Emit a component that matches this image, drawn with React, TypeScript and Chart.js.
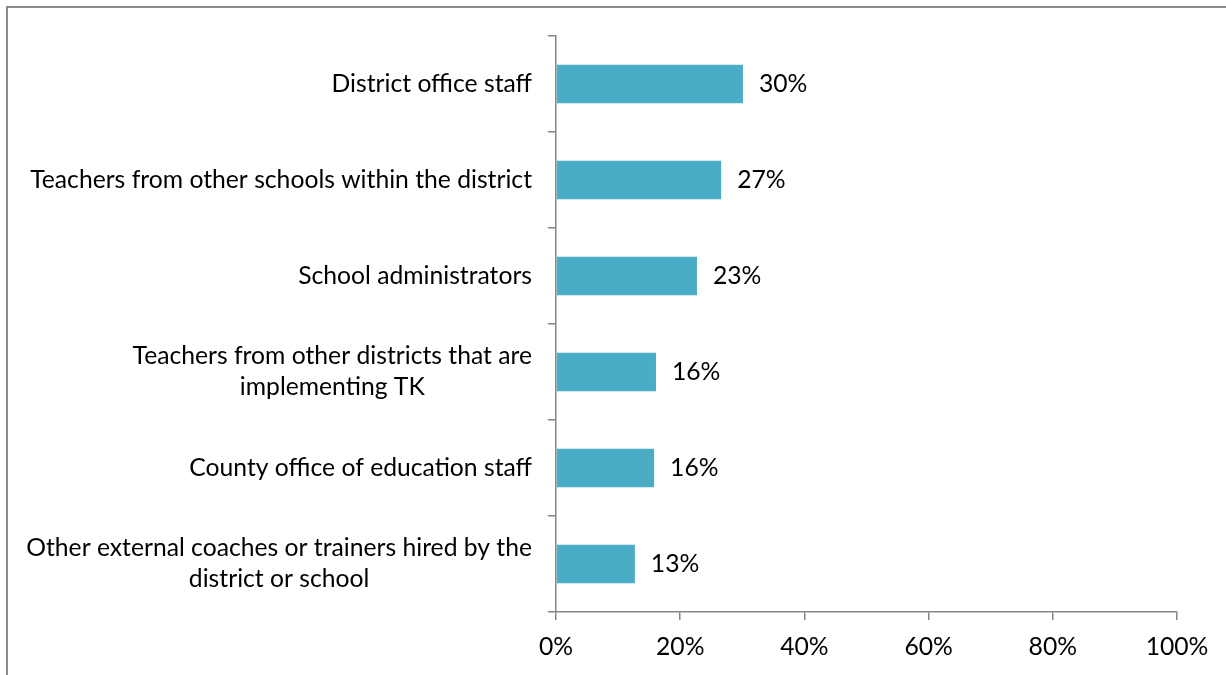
import React, { useEffect, useRef } from "react";
import { Chart, registerables } from "chart.js";

Chart.register(...registerables);

const categories: string[][] = [
  ["District office staff"],
  ["Teachers from other schools within the district"],
  ["School administrators"],
  ["Teachers from other districts that are", "implementing TK"],
  ["County office of education staff"],
  ["Other external coaches or trainers hired by the", "district or school"],
];
const values: number[] = [30.1, 26.6, 22.7, 16.1, 15.8, 12.7];
const valueLabels: string[] = ["30%", "27%", "23%", "16%", "16%", "13%"];
const xTicks: number[] = [0, 20, 40, 60, 80, 100];

const FONT = "Lato";
const FONT_SIZE = 24.7;
const AXIS_COLOR = "#868686";
const BAR_COLOR = "#4BACC6";

const labelPlugin = {
  id: "customLabels",
  afterDraw(chart: any) {
    const ctx = chart.ctx;
    const yScale = chart.scales.y;
    ctx.save();
    ctx.font = `${FONT_SIZE}px ${FONT}`;
    ctx.fillStyle = "#000";
    ctx.textBaseline = "middle";
    const rightEdge = yScale.right - 24;
    const lineH = 31;
    categories.forEach((lines, i) => {
      const yc = yScale.getPixelForValue(i);
      const maxW = Math.max(...lines.map((l) => ctx.measureText(l).width));
      const cx = rightEdge - maxW / 2;
      ctx.textAlign = "center";
      lines.forEach((l, j) => {
        const y = yc + (j - (lines.length - 1) / 2) * lineH;
        ctx.fillText(l, cx, y);
      });
    });
    const meta = chart.getDatasetMeta(0);
    ctx.textAlign = "left";
    meta.data.forEach((bar: any, i: number) => {
      ctx.fillText(valueLabels[i], bar.x + 16, bar.y);
    });
    ctx.restore();
  },
};

export default function App() {
  const ref = useRef<HTMLCanvasElement>(null);
  useEffect(() => {
    if (!ref.current) return;
    const chart = new Chart(ref.current, {
      type: "bar",
      data: {
        labels: categories.map((c) => c.join(" ")),
        datasets: [
          {
            data: values,
            backgroundColor: BAR_COLOR,
            barPercentage: 0.4,
            categoryPercentage: 1,
          },
        ],
      },
      options: {
        indexAxis: "y",
        animation: false,
        responsive: false,
        maintainAspectRatio: false,
        layout: { padding: { top: 36, right: 49, left: 0, bottom: 0 } },
        plugins: { legend: { display: false }, tooltip: { enabled: false } },
        scales: {
          x: {
            min: 0,
            max: 100,
            afterBuildTicks: (scale: any) => {
              scale.ticks = xTicks.map((v) => ({ value: v }));
            },
            afterFit: (scale: any) => {
              scale.height = 63;
            },
            border: { display: true, color: AXIS_COLOR, width: 1.5 },
            grid: {
              drawOnChartArea: false,
              drawTicks: true,
              tickLength: 8,
              color: AXIS_COLOR,
              lineWidth: 1.5,
            },
            ticks: {
              font: { family: FONT, size: FONT_SIZE },
              color: "#000",
              padding: 12,
              maxRotation: 0,
              callback: (v: any) => `${v}%`,
            },
          },
          y: {
            type: "category",
            offset: true,
            afterFit: (scale: any) => {
              scale.width = 556;
            },
            border: { display: true, color: AXIS_COLOR, width: 1.5 },
            grid: {
              offset: true,
              drawOnChartArea: false,
              drawTicks: true,
              tickLength: 8,
              color: AXIS_COLOR,
              lineWidth: 1.5,
            },
            ticks: { display: false },
          },
        },
      },
      plugins: [labelPlugin],
    });
    return () => chart.destroy();
  }, []);

  return (
    <div style={{ position: "absolute", left: 0, top: 0, width: 1226, height: 675, background: "#fff", overflow: "hidden" }}>
      <div
        style={{
          position: "absolute",
          left: 6,
          top: 6,
          width: 1300,
          height: 800,
          borderLeft: "2px solid #8c8c8c",
          borderTop: "2px solid #8c8c8c",
          boxSizing: "border-box",
        }}
      />
      <canvas ref={ref} width={1226} height={675} style={{ position: "absolute", left: 0, top: 0 }} />
    </div>
  );
}
